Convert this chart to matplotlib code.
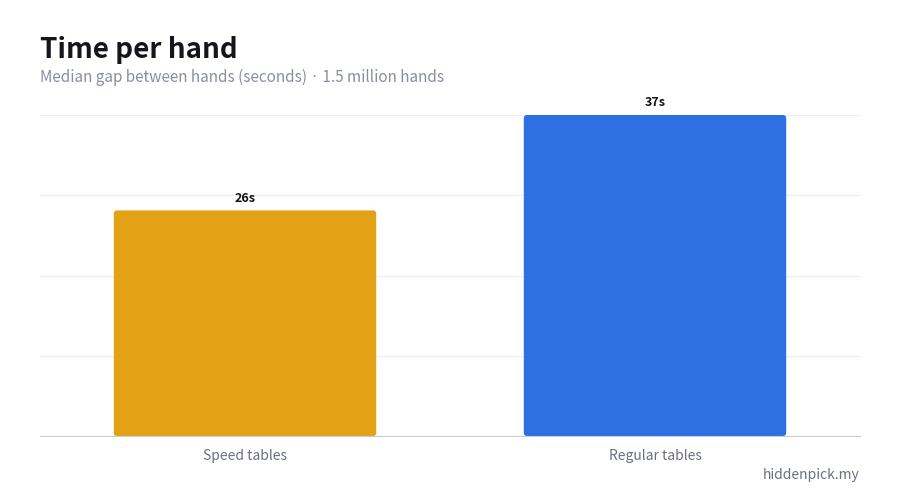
import matplotlib
matplotlib.use("Agg")
import matplotlib.pyplot as plt
from matplotlib.patches import FancyBboxPatch
import numpy as np

plt.rcParams["font.family"] = ["Noto Sans CJK KR", "DejaVu Sans"]

# data
categories = ["Speed tables", "Regular tables"]
seconds = [26, 37]
bar_colors = ["#E3A215", "#2F6FE4"]

fig = plt.figure(figsize=(9, 5), dpi=100)
ax = fig.add_axes([40 / 900, 64 / 500, 820 / 900, 321 / 500])

x = np.arange(len(categories))
bars = ax.bar(x, seconds, width=0.64, color=bar_colors, zorder=2)

ymax = max(seconds)
ax.set_ylim(0, ymax)
ax.set_xlim(-0.5, len(categories) - 0.5)

# swap plain bars for slightly rounded ones
px_x = 820 / (len(categories))          # pixels per x unit
px_y = 321 / ymax                        # pixels per y unit
for b in bars:
    b.set_visible(False)
    r = FancyBboxPatch((b.get_x(), b.get_y()), b.get_width(), b.get_height(),
                       boxstyle=f"round,pad=0,rounding_size={3 / px_x}",
                       mutation_aspect=px_x / px_y,
                       facecolor=b.get_facecolor(), edgecolor="none", zorder=2)
    ax.add_patch(r)

ax.set_yticks(np.linspace(0, ymax, 5))
ax.yaxis.grid(True, color="#eceef2", linewidth=1, zorder=0)
ax.tick_params(axis="y", left=False, labelleft=False)
ax.tick_params(axis="x", bottom=False, labelsize=10, labelcolor="#6b7080", pad=6)
ax.set_xticks(x)
ax.set_xticklabels(categories)
for s in ["top", "right", "left"]:
    ax.spines[s].set_visible(False)
ax.spines["bottom"].set_color("#c9cdd6")
ax.spines["bottom"].set_zorder(3)

for xi, v in zip(x, seconds):
    ax.annotate(f"{v}s", (xi, v), xytext=(0, 4), textcoords="offset points",
                ha="center", va="bottom", fontsize=9, fontweight="bold", color="#111111",
                annotation_clip=False)

fig.text(40 / 900, 1 - 58 / 500, "Time per hand", fontsize=20, fontweight="bold",
         color="#14161c", va="baseline")
fig.text(40 / 900, 1 - 82 / 500, "Median gap between hands (seconds) \u00b7 1.5 million hands",
         fontsize=11, color="#8a8fa0", va="baseline")
fig.text(860 / 900, 1 - 479 / 500, "hiddenpick.my", fontsize=10, color="#6b7080",
         ha="right", va="baseline")

fig.savefig("out.png", dpi=100, facecolor="white")
